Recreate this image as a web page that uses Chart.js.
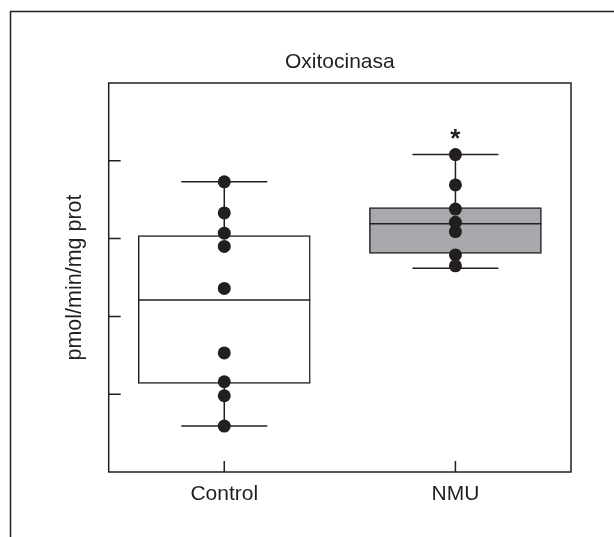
<!DOCTYPE html>
<html>
<head>
<meta charset="utf-8">
<script src="https://cdn.jsdelivr.net/npm/chart.js@4/dist/chart.umd.min.js"></script>
<style>
  html, body { margin: 0; padding: 0; background: #ffffff; }
  #c { display: block; }
</style>
</head>
<body>
<canvas id="c" width="614" height="537"></canvas>
<script>
// ---- data ----
const categories = ["Control", "NMU"];
const categoryPositions = [0.5, 1.5];
const controlValues = [3.73, 3.33, 3.07, 2.90, 2.36, 1.53, 1.16, 0.98, 0.59];
const nmuValues = [4.08, 3.69, 3.38, 3.21, 3.09, 2.79, 2.65];
const whiskerLow = [0.59, 2.62];
const quartile1 = [1.14, 2.81];
const medians = [2.21, 3.19];
const quartile3 = [3.04, 3.40];
const whiskerHigh = [3.73, 4.08];
const significance = ["", "*"];
const yTickValues = [1, 2, 3, 4];

const INK = "#231f20";
const FONT = "'Liberation Sans', Arial, Helvetica, sans-serif";

const pointData = [];
controlValues.forEach(v => pointData.push({ x: categoryPositions[0], y: v }));
nmuValues.forEach(v => pointData.push({ x: categoryPositions[1], y: v }));

const boxData = categories.map((c, i) => ({ x: categoryPositions[i], y: [quartile1[i], quartile3[i]] }));

const BOX_WIDTH = 172;
const CAP_HALF = 43;

const boxPlugin = {
  id: "boxExtras",
  afterDatasetDraw(chart, args) {
    if (args.index !== 1) return;
    const ctx = chart.ctx;
    const xs = chart.scales.x, ys = chart.scales.y;
    ctx.save();
    ctx.strokeStyle = INK;
    ctx.lineWidth = 1.5;
    categories.forEach((c, i) => {
      const px = xs.getPixelForValue(categoryPositions[i]);
      const half = BOX_WIDTH / 2;
      const pm = ys.getPixelForValue(medians[i]);
      ctx.beginPath(); ctx.moveTo(px - half, pm); ctx.lineTo(px + half, pm); ctx.stroke();
      const pHi = ys.getPixelForValue(whiskerHigh[i]);
      const pLo = ys.getPixelForValue(whiskerLow[i]);
      const pQ3 = ys.getPixelForValue(quartile3[i]);
      const pQ1 = ys.getPixelForValue(quartile1[i]);
      ctx.beginPath();
      ctx.moveTo(px, pHi); ctx.lineTo(px, pQ3);
      ctx.moveTo(px, pQ1); ctx.lineTo(px, pLo);
      ctx.stroke();
      ctx.beginPath();
      ctx.moveTo(px - CAP_HALF, pHi); ctx.lineTo(px + CAP_HALF, pHi);
      ctx.moveTo(px - CAP_HALF, pLo); ctx.lineTo(px + CAP_HALF, pLo);
      ctx.stroke();
    });
    ctx.restore();
  },
  afterDraw(chart) {
    const ctx = chart.ctx;
    const a = chart.chartArea;
    const xs = chart.scales.x, ys = chart.scales.y;
    ctx.save();
    ctx.strokeStyle = INK;
    ctx.lineWidth = 1.5;
    ctx.strokeRect(a.left, a.top, a.right - a.left, a.bottom - a.top);
    ctx.beginPath();
    ys.ticks.forEach(t => {
      const p = ys.getPixelForValue(t.value);
      ctx.moveTo(a.left, p); ctx.lineTo(a.left + 12, p);
    });
    xs.ticks.forEach(t => {
      const p = xs.getPixelForValue(t.value);
      ctx.moveTo(p, a.bottom); ctx.lineTo(p, a.bottom - 11);
    });
    ctx.stroke();
    ctx.beginPath();
    ctx.moveTo(10.5, chart.height);
    ctx.lineTo(10.5, 11.5);
    ctx.lineTo(chart.width, 11.5);
    ctx.stroke();
    ctx.fillStyle = INK;
    ctx.font = "bold 26px " + FONT;
    ctx.textAlign = "center";
    ctx.textBaseline = "middle";
    categories.forEach((c, i) => {
      if (!significance[i]) return;
      const px = xs.getPixelForValue(categoryPositions[i]);
      const py = ys.getPixelForValue(whiskerHigh[i]) - 15;
      ctx.fillText(significance[i], px, py);
    });
    ctx.restore();
  }
};

new Chart(document.getElementById("c"), {
  type: "scatter",
  data: {
    datasets: [
      {
        type: "scatter",
        data: pointData,
        pointRadius: 6.5,
        pointHoverRadius: 6.5,
        backgroundColor: INK,
        borderWidth: 0
      },
      {
        type: "bar",
        data: boxData,
        barThickness: BOX_WIDTH,
        backgroundColor: ["#ffffff", "#a7a9ac"],
        borderColor: INK,
        borderWidth: 1.5,
        borderSkipped: false
      }
    ]
  },
  options: {
    responsive: false,
    animation: false,
    devicePixelRatio: 1,
    layout: { padding: { left: 0, right: 43, top: 0, bottom: 0 } },
    plugins: {
      legend: { display: false },
      tooltip: { enabled: false },
      title: {
        display: true,
        text: "Oxitocinasa",
        fullSize: false,
        color: INK,
        font: { family: FONT, size: 21, weight: "normal", lineHeight: 1.2 },
        padding: { top: 49.9, bottom: 7.9 }
      }
    },
    scales: {
      x: {
        type: "linear",
        min: 0,
        max: 2,
        offset: false,
        grid: { display: false, drawTicks: false, offset: false },
        border: { display: false },
        afterBuildTicks(scale) { scale.ticks = categoryPositions.map(v => ({ value: v })); },
        afterFit(scale) { scale.height = 65; },
        ticks: {
          padding: 9.4,
          color: INK,
          font: { family: FONT, size: 21, lineHeight: 1.2 },
          callback(value) {
            const i = categoryPositions.indexOf(value);
            return i >= 0 ? categories[i] : "";
          }
        }
      },
      y: {
        type: "linear",
        min: 0,
        max: 5,
        grid: { display: false, drawTicks: false },
        border: { display: false },
        afterBuildTicks(scale) { scale.ticks = yTickValues.map(v => ({ value: v })); },
        afterFit(scale) { scale.width = 108.7; },
        ticks: { display: false },
        title: {
          display: true,
          text: "pmol/min/mg prot",
          color: INK,
          font: { family: FONT, size: 21.5, lineHeight: 1.2 },
          padding: { top: 62.1, bottom: 0 }
        }
      }
    }
  },
  plugins: [boxPlugin]
});
</script>
</body>
</html>
